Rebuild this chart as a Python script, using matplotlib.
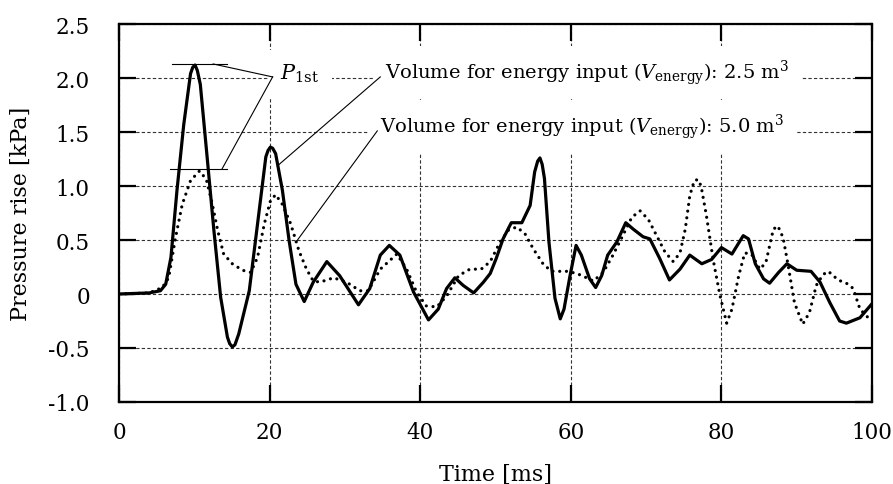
import numpy as np
import matplotlib.pyplot as plt
plt.switch_backend('agg')

plt.rcParams['font.family'] = 'DejaVu Serif'
plt.rcParams['mathtext.fontset'] = 'dejavuserif'

# time [ms] / pressure rise [kPa]
t_25 = [0, 2, 4, 5.5, 6.2, 6.9, 7.7, 8.6, 9.5, 9.8, 10.1, 10.4, 10.8, 11.7, 12.6, 13.5, 14.4,
        14.7, 15.05, 15.4, 15.9, 17.3, 18.4, 19.5, 19.8, 20.1, 20.4, 20.8, 21.7, 22.6, 23.5,
        24.6, 25.8, 27.6, 29.3, 31.8, 33.3, 34.7, 35.9, 37.3, 39.1, 41.1, 42.4, 43.5, 44.6,
        45.7, 47.1, 48.4, 49.3, 50.1, 51.0, 52.1, 53.5, 54.6, 55.2, 55.6, 55.9, 56.2, 56.5,
        57.1, 57.9, 58.6, 59.1, 59.9, 60.7, 61.4, 62.5, 63.3, 64.1, 64.9, 66.1, 67.3, 68.3,
        69.6, 70.5, 71.8, 73.1, 74.5, 75.8, 77.4, 78.7, 80.0, 81.4, 82.9, 83.6, 84.5, 85.6,
        86.4, 87.6, 88.7, 90.0, 91.9, 93.1, 94.4, 95.7, 96.6, 98.4, 100]
p_25 = [0.0, 0.005, 0.01, 0.03, 0.09, 0.34, 0.96, 1.57, 2.04, 2.10, 2.12, 2.07, 1.94, 1.27,
        0.59, -0.03, -0.40, -0.46, -0.49, -0.47, -0.37, 0.03, 0.65, 1.27, 1.33, 1.36, 1.35,
        1.30, 0.96, 0.49, 0.09, -0.07, 0.11, 0.30, 0.17, -0.10, 0.05, 0.36, 0.45, 0.36, 0.02,
        -0.24, -0.14, 0.05, 0.15, 0.08, 0.01, 0.11, 0.19, 0.33, 0.51, 0.66, 0.66, 0.82, 1.13,
        1.23, 1.26, 1.20, 1.07, 0.48, -0.04, -0.23, -0.14, 0.17, 0.45, 0.36, 0.14, 0.06, 0.17,
        0.36, 0.48, 0.66, 0.60, 0.53, 0.51, 0.33, 0.13, 0.23, 0.36, 0.28, 0.32, 0.43, 0.37,
        0.54, 0.51, 0.28, 0.14, 0.10, 0.20, 0.28, 0.22, 0.21, 0.11, -0.08, -0.25, -0.27,
        -0.22, -0.09]

t_50 = [0, 2, 4, 5.75, 6.6, 7.5, 8.4, 9.5, 10.7, 11.6, 12.4, 13.1, 13.9, 15.05, 16.4, 17.5,
        18.4, 19.3, 20.1, 20.8, 21.7, 22.8, 23.9, 24.9, 25.8, 26.7, 28.5, 30.2, 32.0, 33.1,
        34.7, 36.9, 38.2, 39.5, 40.8, 42.2, 43.5, 45.1, 46.6, 48.1, 49.3, 50.6, 51.7, 52.8,
        53.9, 55.0, 56.4, 57.5, 59.5, 60.8, 62.1, 63.0, 64.3, 65.6, 66.9, 68.1, 69.2, 70.3,
        71.4, 72.5, 73.6, 74.5, 75.2, 75.8, 76.4, 76.9, 77.3, 78.0, 78.9, 79.8, 80.7, 81.4,
        82.3, 83.1, 84.0, 85.1, 85.9, 86.9, 87.5, 88.2, 88.8, 89.7, 90.8, 91.7, 92.6, 93.5,
        94.2, 95.5, 96.9, 97.5, 98.4, 99.5, 100]
p_50 = [0.0, 0.005, 0.01, 0.06, 0.15, 0.52, 0.83, 1.05, 1.14, 1.06, 0.83, 0.59, 0.37, 0.28,
        0.22, 0.20, 0.34, 0.65, 0.86, 0.92, 0.83, 0.65, 0.40, 0.23, 0.12, 0.11, 0.15, 0.11,
        0.03, 0.03, 0.23, 0.37, 0.23, 0.02, -0.11, -0.12, -0.02, 0.17, 0.23, 0.23, 0.30, 0.48,
        0.59, 0.62, 0.56, 0.42, 0.27, 0.21, 0.21, 0.19, 0.15, 0.12, 0.20, 0.36, 0.54, 0.71,
        0.77, 0.69, 0.54, 0.39, 0.30, 0.38, 0.60, 0.91, 1.05, 1.06, 1.00, 0.73, 0.32, -0.01,
        -0.27, -0.14, 0.17, 0.38, 0.37, 0.23, 0.29, 0.60, 0.63, 0.52, 0.29, -0.08, -0.28, -0.17,
        0.08, 0.18, 0.21, 0.13, 0.09, 0.05, -0.14, -0.22, -0.20]

xticks = [0, 20, 40, 60, 80, 100]
yticks = [-1.0, -0.5, 0, 0.5, 1.0, 1.5, 2.0, 2.5]
ytick_labels = ['-1.0', '-0.5', '0', '0.5', '1.0', '1.5', '2.0', '2.5']

fig = plt.figure(figsize=(8.93, 4.85), dpi=100)
ax = fig.add_axes([119/893, 82/485, 753/893, 378/485])

ax.plot(t_25, p_25, color='black', lw=2.3, solid_joinstyle='round', zorder=4)
ax.plot(t_50, p_50, color='black', lw=2.3, linestyle=(0, (0.01, 2.1)),
        dash_capstyle='round', zorder=4)

ax.set_xlim(0, 100)
ax.set_ylim(-1.0, 2.5)
ax.set_xticks(xticks)
ax.set_xticklabels([str(x) for x in xticks])
ax.set_yticks(yticks)
ax.set_yticklabels(ytick_labels)
ax.grid(True, linestyle=(0, (3, 2)), linewidth=0.8, color='0.2')
ax.set_axisbelow(True)
ax.tick_params(direction='in', length=12, width=1.6, top=True, right=True, labelsize=15.5)
ax.tick_params(axis='x', pad=14)
ax.tick_params(axis='y', pad=21)
for s in ax.spines.values():
    s.set_linewidth(1.6)

ax.set_xlabel('Time [ms]', fontsize=16, labelpad=14)
ax.set_ylabel('Pressure rise [kPa]', fontsize=16, labelpad=12)

# annotations
box = dict(boxstyle='square,pad=0.6', fc='white', ec='none')
ax.text(21.4, 1.99, r'$P_{\mathrm{1st}}$', fontsize=15, va='baseline', ha='left',
        bbox=box, zorder=3)
ax.text(35.3, 2.0, r'Volume for energy input ($V_{\mathrm{energy}}$): 2.5 m$^3$',
        fontsize=14, va='baseline', ha='left', bbox=box, zorder=3)
ax.text(34.7, 1.5, r'Volume for energy input ($V_{\mathrm{energy}}$): 5.0 m$^3$',
        fontsize=14, va='baseline', ha='left', bbox=box, zorder=3)

lk = dict(color='black', lw=0.8, zorder=5)
ax.plot([7.0, 14.3], [2.13, 2.13], **lk)
ax.plot([6.8, 14.3], [1.16, 1.16], **lk)
ax.plot([12.5, 20.4], [2.13, 2.01], **lk)
ax.plot([13.7, 20.4], [1.16, 2.01], **lk)
ax.plot([34.7, 21.1], [2.01, 1.19], **lk)
ax.plot([34.3, 23.6], [1.51, 0.49], **lk)

plt.savefig('out.png', dpi=100)
plt.close('all')
